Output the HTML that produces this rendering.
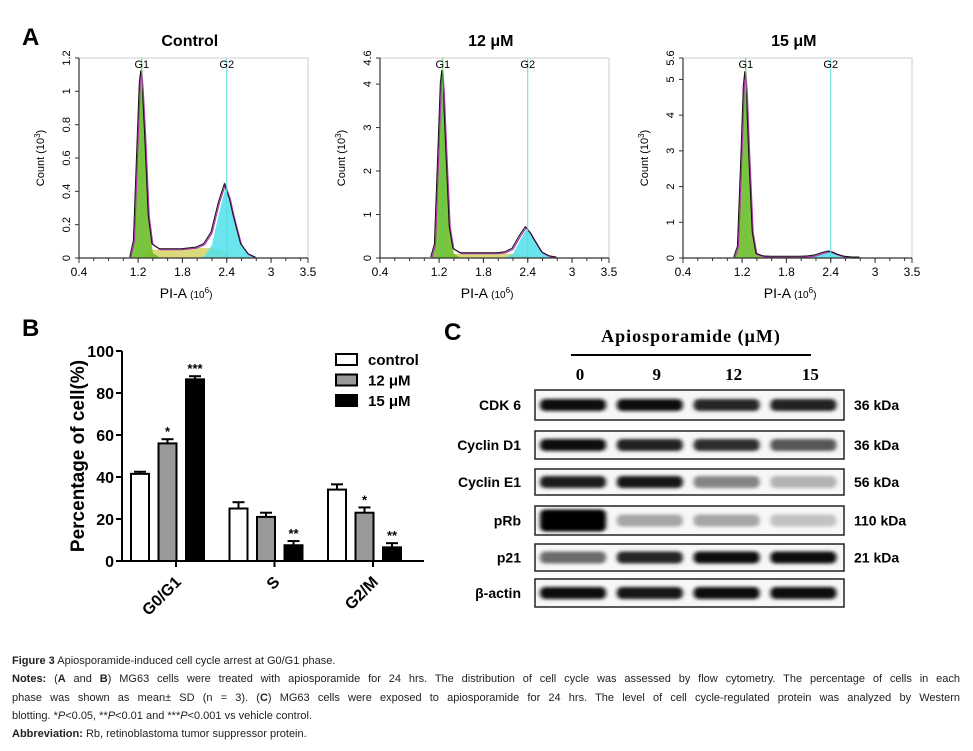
<!DOCTYPE html>
<html><head><meta charset="utf-8"><style>
body{margin:0;background:#fff;}
svg{display:block;font-family:"Liberation Sans",Arial,sans-serif;}
.cap{position:absolute;left:12px;width:948px;font-family:"Liberation Sans Narrow","Liberation Sans",sans-serif;font-size:11px;color:#222;line-height:18.3px;}
.cap div{text-align:justify;text-align-last:justify;white-space:nowrap;}
.cap div.l{text-align-last:left;}
</style></head><body>
<div style="position:relative;width:973px;height:751px;overflow:hidden">
<svg id="fig" width="973" height="751">
<defs><filter id="blur" x="-20%" y="-100%" width="140%" height="300%"><feGaussianBlur stdDeviation="2.2 1.6"/></filter></defs>
<text x="22" y="45" font-size="24" font-weight="bold">A</text>
<text x="22" y="336" font-size="24" font-weight="bold">B</text>
<text x="444" y="340" font-size="24" font-weight="bold">C</text>
<g id="hist"></g><g id="bars"></g><g id="blot"></g>
</svg>
<div class="cap" style="top:652px">
<div class="l"><b>Figure 3</b> Apiosporamide-induced cell cycle arrest at G0/G1 phase.</div>
<div><b>Notes:</b> (<b>A</b> and <b>B</b>) MG63 cells were treated with apiosporamide for 24 hrs. The distribution of cell cycle was assessed by flow cytometry. The percentage of cells in each</div>
<div>phase was shown as mean± SD (n = 3). (<b>C</b>) MG63 cells were exposed to apiosporamide for 24 hrs. The level of cell cycle-regulated protein was analyzed by Western</div>
<div class="l">blotting. *<i>P</i>&lt;0.05, **<i>P</i>&lt;0.01 and ***<i>P</i>&lt;0.001 vs vehicle control.</div>
<div class="l"><b>Abbreviation:</b> Rb, retinoblastoma tumor suppressor protein.</div>
</div>
</div>
<script>
// ---- Panel A data ----
const histTitles = ["Control", "12 \u03bcM", "15 \u03bcM"];
const histYMax = [1.2, 4.6, 5.6];
const histYTicks = [[0,0.2,0.4,0.6,0.8,1,1.2],[0,1,2,3,4,4.6],[0,1,2,3,4,5,5.6]];
const histXTicks = [0.4,1.2,1.8,2.4,3,3.5];
const histX = [1.1,1.15,1.2,1.23,1.25,1.27,1.3,1.35,1.4,1.5,1.6,1.8,2.0,2.1,2.2,2.3,2.38,2.45,2.5,2.6,2.7,2.8];
const totalCtrl = [0,0.1,0.7,1.05,1.12,1.0,0.75,0.25,0.08,0.05,0.05,0.05,0.06,0.08,0.15,0.33,0.44,0.35,0.25,0.08,0.02,0];
const g1Ctrl =    [0,0.1,0.7,1.05,1.12,1.0,0.7,0.2,0.03,0,0,0,0,0,0,0,0,0,0,0,0,0];
const sCtrl =     [0,0,0,0,0,0,0.03,0.05,0.05,0.05,0.05,0.05,0.06,0.06,0.06,0.05,0.03,0.01,0,0,0,0];
const g2Ctrl =    [0,0,0,0,0,0,0,0,0,0,0,0,0,0.01,0.08,0.28,0.42,0.35,0.25,0.08,0.02,0];
const total12 = [0,0.3,2.6,4.0,4.3,3.8,2.6,0.7,0.2,0.1,0.1,0.1,0.1,0.12,0.2,0.5,0.7,0.55,0.4,0.12,0.03,0];
const g1_12 =   [0,0.3,2.6,4.0,4.3,3.8,2.5,0.6,0.1,0,0,0,0,0,0,0,0,0,0,0,0,0];
const s12 =     [0,0,0,0,0,0,0.06,0.1,0.1,0.1,0.1,0.1,0.1,0.1,0.1,0.08,0.05,0.02,0,0,0,0];
const g2_12 =   [0,0,0,0,0,0,0,0,0,0,0,0,0,0.02,0.1,0.42,0.66,0.55,0.4,0.12,0.03,0];
const total15 = [0,0.3,3.0,4.8,5.2,4.6,3.0,0.7,0.1,0.03,0.02,0.02,0.02,0.03,0.06,0.13,0.17,0.13,0.08,0.02,0,0];
const g1_15 =   [0,0.3,3.0,4.8,5.2,4.6,3.0,0.7,0.1,0,0,0,0,0,0,0,0,0,0,0,0,0];
const s15 =     [0,0,0,0,0,0,0.01,0.02,0.02,0.02,0.02,0.02,0.02,0.02,0.02,0.02,0.01,0,0,0,0,0];
const g2_15 =   [0,0,0,0,0,0,0,0,0,0,0,0,0,0.01,0.05,0.12,0.16,0.13,0.08,0.02,0,0];
const histSeries = [[totalCtrl,g1Ctrl,sCtrl,g2Ctrl],[total12,g1_12,s12,g2_12],[total15,g1_15,s15,g2_15]];

// ---- Panel B data ----
const barCats = ["G0/G1","S","G2/M"];
const barCtrl = [41.5,25,34];
const bar12 = [56,21,23];
const bar15 = [86.5,7.5,6.5];
const errCtrl = [1,3,2.5];
const err12 = [2,2,2.5];
const err15 = [1.5,2,2];
const sig12 = ["*","","*"];
const sig15 = ["***","**","**"];
const barYTicks = [0,20,40,60,80,100];
const legendLabels = ["control","12 \u03bcM","15 \u03bcM"];

// ---- Panel C data ----
const blotRows = ["CDK 6","Cyclin D1","Cyclin E1","pRb","p21","\u03b2-actin"];
const blotKDa = ["36 kDa","36 kDa","56 kDa","110 kDa","21 kDa",""];
const blotLanes = ["0","9","12","15"];
const bandIntensity = [[0.95,0.97,0.85,0.88],[0.95,0.88,0.82,0.65],[0.9,0.93,0.45,0.25],[1.0,0.3,0.3,0.18],[0.55,0.85,0.95,0.98],[0.95,0.93,0.95,0.97]];

const NS="http://www.w3.org/2000/svg";
function mk(tag,attrs,parent,txt){const e=document.createElementNS(NS,tag);for(const k in attrs)e.setAttribute(k,attrs[k]);if(txt!==undefined)e.textContent=txt;parent.appendChild(e);return e;}

// Panel A
const H=document.getElementById('hist');
const hOffsets=[0,301,604];
histTitles.forEach((t,p)=>{
  const L=79+hOffsets[p],R=308+hOffsets[p],T=58,B=258;
  const xs=v=>L+(v-0.4)/3.1*(R-L);
  const ys=v=>B-v/histYMax[p]*(B-T);
  const g=mk('g',{},H);
  
  
  const tt=mk('text',{x:xs(1.9),y:46,'font-size':16,'font-weight':'bold','text-anchor':'middle'},g,t);
  
  
  const [tot,g1,s,g2]=histSeries[p];
  const area=(arr,fill)=>{let d='M'+xs(histX[0])+','+B;arr.forEach((v,i)=>d+=' L'+xs(histX[i]).toFixed(1)+','+ys(v).toFixed(1));d+=' L'+xs(histX[histX.length-1])+','+B+'Z';return mk('path',{d:d,fill:fill,stroke:'none'},g);};
  const a1=area(s,'rgba(205,205,80,0.75)');
  const a3=area(g2,'rgba(80,225,235,0.85)');
  const a2=area(g1,'rgba(110,190,40,0.9)');
  let d='';tot.forEach((v,i)=>d+=(i?' L':'M')+xs(histX[i]).toFixed(1)+','+ys(v).toFixed(1));
  const l2=mk('path',{d:d,fill:'none',stroke:'#b030b0','stroke-width':1.2},g);
  const l1=mk('path',{d:d,fill:'none',stroke:'#111','stroke-width':1,transform:'translate(-1,-1)'},g);
  mk('line',{x1:xs(1.25),x2:xs(1.25),y1:T,y2:B,stroke:'#5c5','stroke-width':1},g);
  mk('line',{x1:xs(2.4),x2:xs(2.4),y1:T,y2:B,stroke:'#5dd','stroke-width':1},g);
  mk('text',{x:xs(1.25),y:T+10,'font-size':11,'text-anchor':'middle'},g,'G1');
  mk('text',{x:xs(2.4),y:T+10,'font-size':11,'text-anchor':'middle'},g,'G2');
  mk('rect',{x:L,y:T,width:R-L,height:B-T,fill:'none',stroke:'#ccc','stroke-width':1},g);
  mk('line',{x1:L,x2:R,y1:B,y2:B,stroke:'#333','stroke-width':1.2},g);
  mk('line',{x1:L,x2:L,y1:T,y2:B,stroke:'#333','stroke-width':1.2},g);
  histYTicks[p].forEach(v=>{mk('line',{x1:L-4,x2:L,y1:ys(v),y2:ys(v),stroke:'#333'},g);
    mk('text',{x:L-9,y:ys(v),'font-size':11,'text-anchor':'middle',transform:'rotate(-90 '+(L-9)+' '+ys(v)+')'},g,String(v));});
  for(let v=0.4;v<=3.5;v+=0.2){mk('line',{x1:xs(v),x2:xs(v),y1:B,y2:B+3,stroke:'#333'},g);}
  histXTicks.forEach(v=>{mk('line',{x1:xs(v),x2:xs(v),y1:B,y2:B+5,stroke:'#333'},g);
    mk('text',{x:xs(v),y:B+18,'font-size':12,'text-anchor':'middle'},g,String(v));});
  const xl=mk('text',{x:xs(1.85),y:B+40,'font-size':14,'text-anchor':'middle'},g);
  xl.innerHTML='PI-A <tspan font-size="10">(10</tspan><tspan font-size="8" dy="-5">6</tspan><tspan font-size="10" dy="5">)</tspan>';
  
  const yl=mk('text',{x:L-35,y:(T+B)/2,'font-size':11,'text-anchor':'middle',transform:'rotate(-90 '+(L-35)+' '+((T+B)/2)+')'},g);
  yl.innerHTML='Count (10<tspan font-size="8" dy="-4">3</tspan><tspan dy="4">)</tspan>';
  
});

// Panel B
const BG=document.getElementById('bars');
const bL=122,bR=424,bB=561,bT=351;
const by=v=>bB-v/100*(bB-bT);
const groupCenter=i=>176+i*98.5;
const bw=18;
mk('line',{x1:bL,x2:bL,y1:bT,y2:bB+1,stroke:'#000','stroke-width':2},BG);
mk('line',{x1:bL,x2:bR,y1:bB,y2:bB,stroke:'#000','stroke-width':2},BG);
barYTicks.forEach(v=>{mk('line',{x1:bL-6,x2:bL,y1:by(v),y2:by(v),stroke:'#000','stroke-width':2},BG);
  const t=mk('text',{x:bL-8,y:by(v)+6,'font-size':16,'font-weight':'bold','text-anchor':'end'},BG,String(v));
  });
const yt=mk('text',{x:84,y:456,'font-size':19,'font-weight':'bold','text-anchor':'middle',transform:'rotate(-90 84 456)'},BG,'Percentage of cell(%)');

const series=[[barCtrl,errCtrl,'#fff',null],[bar12,err12,'#999',sig12],[bar15,err15,'#000',sig15]];
barCats.forEach((c,i)=>{
  const cx=groupCenter(i);
  mk('line',{x1:cx,x2:cx,y1:bB,y2:bB+6,stroke:'#000','stroke-width':2},BG);
  const lt=mk('text',{x:cx+6,y:bB+22,'font-size':16,'font-weight':'bold','text-anchor':'end',transform:'rotate(-45 '+(cx+6)+' '+(bB+22)+')'},BG,c);
  
  series.forEach((s,k)=>{
    const x=cx-36+k*27.5-bw/2;const v=s[0][i],e=s[1][i];
    const r=mk('rect',{x:x,y:by(v),width:bw,height:bB-by(v),fill:s[2],stroke:'#000','stroke-width':2},BG);
    
    mk('line',{x1:x+bw/2,x2:x+bw/2,y1:by(v),y2:by(v+e),stroke:'#000','stroke-width':2},BG);
    mk('line',{x1:x+3,x2:x+bw-3,y1:by(v+e),y2:by(v+e),stroke:'#000','stroke-width':2},BG);
    if(s[3]&&s[3][i]){const st=mk('text',{x:x+bw/2,y:by(v+e)-3,'font-size':13,'font-weight':'bold','text-anchor':'middle'},BG,s[3][i]);
      }
  });
});
legendLabels.forEach((l,k)=>{
  const y=354+k*20.5;const f=series[k][2];
  const g=mk('g',{},BG);
  
  mk('rect',{x:336,y:y,width:21,height:11,fill:f,stroke:'#000','stroke-width':2},g);
  mk('text',{x:368,y:y+11,'font-size':15,'font-weight':'bold'},g,l);
});

// Panel C
const C=document.getElementById('blot');
const rowTop=[390,431,469,506,544,579],rowBot=[420,459,495,535,571,607];
const laneX=i=>572+i*76.8;
const hdr=mk('text',{x:691,y:342,'font-size':18,'font-weight':'bold','text-anchor':'middle','font-family':'"Liberation Serif",serif','letter-spacing':'1'},C,'Apiosporamide (\u03bcM)');

mk('line',{x1:571,x2:811,y1:355,y2:355,stroke:'#000','stroke-width':2},C);
blotLanes.forEach((l,i)=>{const t=mk('text',{x:laneX(i)+8,y:380,'font-size':17,'font-weight':'bold','text-anchor':'middle','font-family':'"Liberation Serif",serif'},C,l);
  });
blotRows.forEach((r,j)=>{
  const T=rowTop[j],Bt=rowBot[j],cy=(T+Bt)/2;
  const g=mk('g',{},C);
  
  mk('rect',{x:535,y:T,width:309,height:Bt-T,fill:'#f7f7f7',stroke:'#222','stroke-width':1.5},g);
  bandIntensity[j].forEach((v,i)=>{const gv=Math.round(235-v*230);
    const big=(j==3&&i==0)?5:0;
    const b=mk('rect',{x:laneX(i)-32,y:cy-6-big,width:66,height:12+2*big,rx:5,fill:'rgb('+gv+','+gv+','+gv+')',filter:'url(#blur)'},g);
    });
  mk('text',{x:521,y:cy+5,'font-size':14,'font-weight':'bold','text-anchor':'end'},g,r);
  if(blotKDa[j])mk('text',{x:854,y:cy+5,'font-size':14,'font-weight':'bold'},g,blotKDa[j]);
});
</script>
</body></html>
